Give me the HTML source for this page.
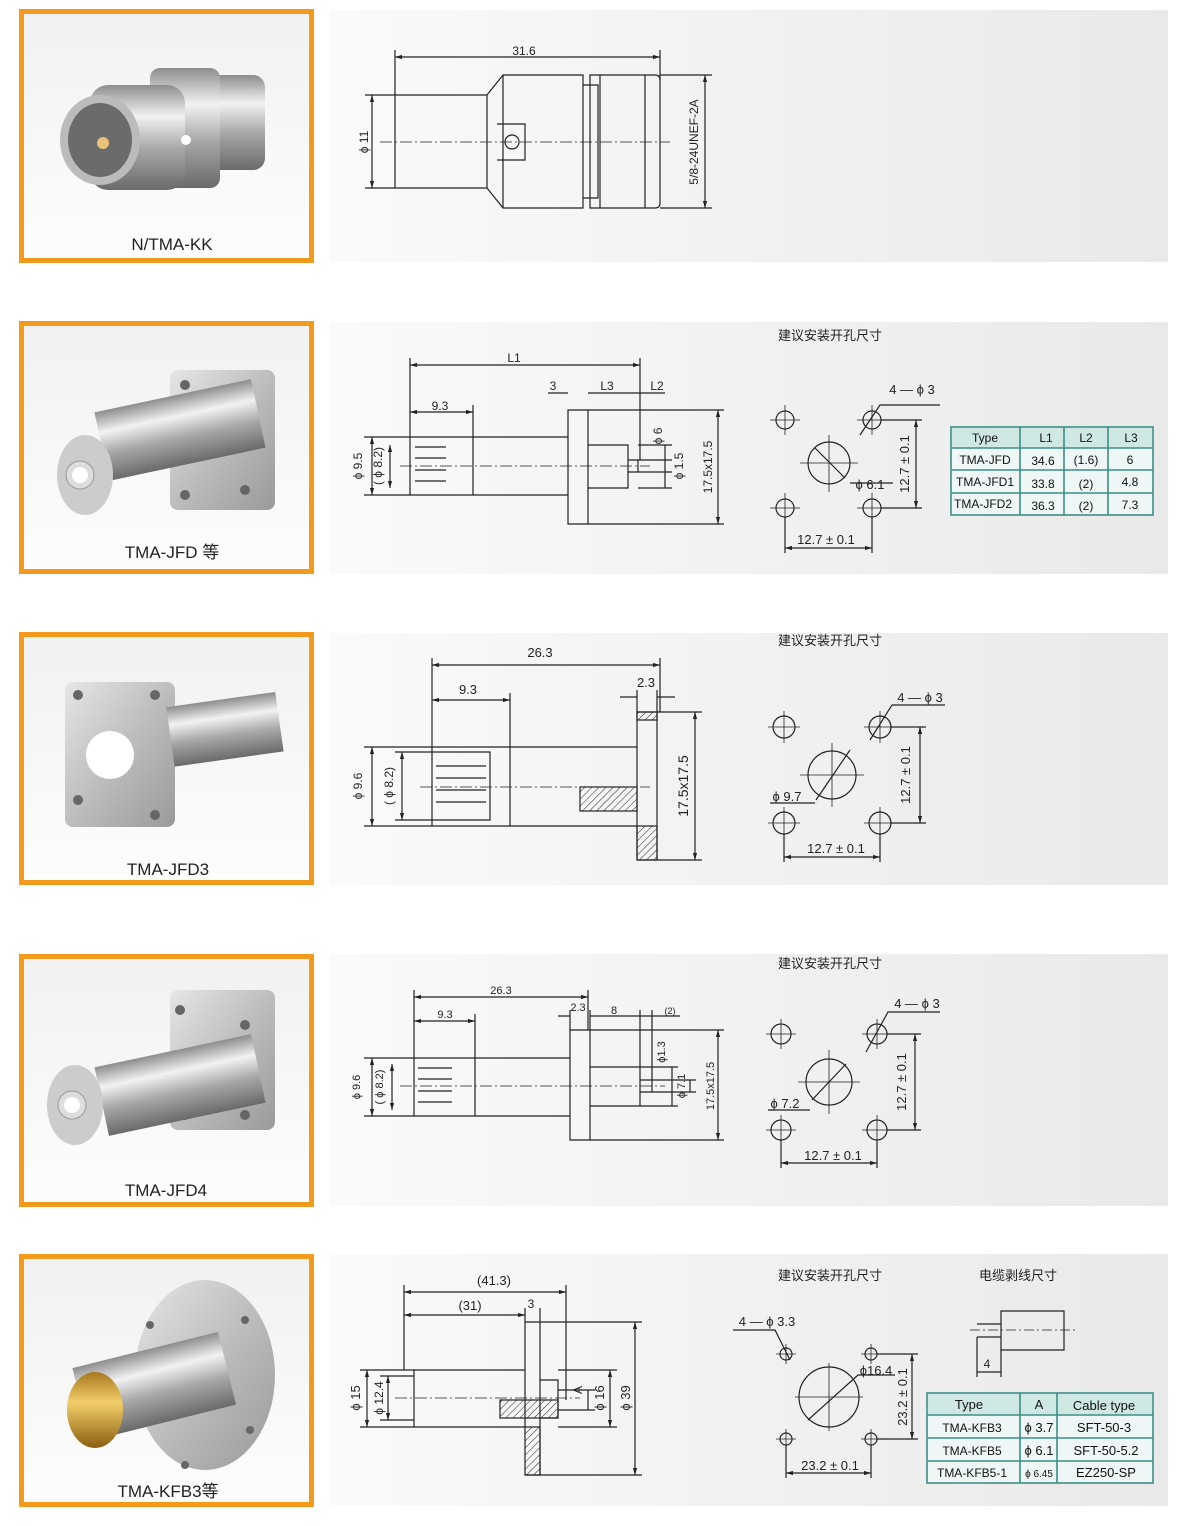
<!DOCTYPE html>
<html><head><meta charset="utf-8"><style>
body{margin:0;background:#fff;}
svg{display:block;font-family:"Liberation Sans","Noto Sans CJK SC",sans-serif;}
</style></head><body>
<svg width="1200" height="1526" viewBox="0 0 1200 1526" xmlns="http://www.w3.org/2000/svg">
<defs>
<linearGradient id="pg" x1="0" y1="0" x2="1" y2="0"><stop offset="0" stop-color="#fafafa"/><stop offset="1" stop-color="#e9e9e9"/></linearGradient>
<linearGradient id="ph" x1="0" y1="0" x2="0" y2="1"><stop offset="0" stop-color="#f1f1f1"/><stop offset="1" stop-color="#fdfdfd"/></linearGradient>
<linearGradient id="met" x1="0" y1="0" x2="0" y2="1"><stop offset="0" stop-color="#8d8d8d"/><stop offset=".3" stop-color="#f2f2f2"/><stop offset=".6" stop-color="#a9a9a9"/><stop offset="1" stop-color="#6a6a6a"/></linearGradient>
<linearGradient id="fl" x1="0" y1="0" x2="1" y2="1"><stop offset="0" stop-color="#e6e6e6"/><stop offset=".5" stop-color="#bdbdbd"/><stop offset="1" stop-color="#9a9a9a"/></linearGradient>
<linearGradient id="gold" x1="0" y1="0" x2="0" y2="1"><stop offset="0" stop-color="#a8771e"/><stop offset=".4" stop-color="#f3cf6a"/><stop offset="1" stop-color="#8a5e10"/></linearGradient>
<pattern id="hat" width="5" height="5" patternUnits="userSpaceOnUse" patternTransform="rotate(45)"><line x1="0" y1="0" x2="0" y2="5" stroke="#222" stroke-width="1"/></pattern>
<marker id="a" viewBox="0 0 10 10" refX="10" refY="5" markerWidth="6" markerHeight="6" orient="auto-start-reverse"><path d="M0,2 L10,5 L0,8z" fill="#222"/></marker>
</defs>
<g fill="url(#pg)">
<rect x="330" y="10" width="838" height="252"/><rect x="330" y="322" width="838" height="252"/>
<rect x="330" y="633" width="838" height="252"/><rect x="330" y="954" width="838" height="252"/>
<rect x="330" y="1254" width="838" height="252"/>
</g>
<g fill="url(#ph)" stroke="#f39a1c" stroke-width="5">
<rect x="21.5" y="11.5" width="290" height="249"/><rect x="21.5" y="323.5" width="290" height="248"/>
<rect x="21.5" y="634.5" width="290" height="248"/><rect x="21.5" y="956.5" width="290" height="248"/>
<rect x="21.5" y="1256.5" width="290" height="248"/>
</g>
<!-- photos -->
<g>
<rect x="195" y="75" width="70" height="95" rx="12" fill="url(#met)"/>
<rect x="150" y="68" width="70" height="120" rx="10" fill="url(#met)"/>
<rect x="90" y="85" width="95" height="105" rx="18" fill="url(#met)"/>
<circle cx="186" cy="140" r="5" fill="#fff"/>
<ellipse cx="100" cy="140" rx="40" ry="45" fill="#bbb"/><ellipse cx="100" cy="140" rx="32" ry="37" fill="#6b6b6b"/><circle cx="103" cy="143" r="6" fill="#e8c27a"/>
<rect x="170" y="370" width="105" height="140" rx="8" fill="url(#fl)"/>
<circle cx="185" cy="385" r="5" fill="#666"/><circle cx="245" cy="405" r="5" fill="#666"/><circle cx="245" cy="490" r="5" fill="#666"/><circle cx="185" cy="495" r="5" fill="#666"/>
<rect x="100" y="395" width="160" height="70" fill="url(#met)" transform="rotate(-12 180 430)"/>
<ellipse cx="85" cy="475" rx="28" ry="40" fill="#ccc"/><circle cx="80" cy="475" r="14" fill="#ddd" stroke="#999"/><circle cx="80" cy="475" r="8" fill="#fff"/>
<rect x="65" y="682" width="110" height="145" rx="8" fill="url(#fl)"/><circle cx="110" cy="755" r="24" fill="#fff"/>
<circle cx="78" cy="695" r="5" fill="#666"/><circle cx="155" cy="695" r="5" fill="#666"/><circle cx="78" cy="800" r="5" fill="#666"/><circle cx="155" cy="815" r="5" fill="#666"/>
<rect x="170" y="700" width="110" height="60" fill="url(#met)" transform="rotate(-8 220 730)"/>
<rect x="170" y="990" width="105" height="140" rx="8" fill="url(#fl)"/>
<circle cx="180" cy="1010" r="5" fill="#666"/><circle cx="245" cy="1025" r="5" fill="#666"/><circle cx="245" cy="1115" r="5" fill="#666"/><circle cx="185" cy="1115" r="5" fill="#666"/>
<rect x="100" y="1050" width="160" height="70" fill="url(#met)" transform="rotate(-12 180 1085)"/>
<ellipse cx="75" cy="1105" rx="28" ry="40" fill="#ccc"/><circle cx="72" cy="1105" r="14" fill="#ddd" stroke="#999"/><circle cx="72" cy="1105" r="8" fill="#fff"/>
<ellipse cx="205" cy="1375" rx="70" ry="95" fill="url(#fl)"/>
<circle cx="150" cy="1325" r="4" fill="#666"/><circle cx="245" cy="1320" r="4" fill="#666"/><circle cx="250" cy="1430" r="4" fill="#666"/><circle cx="185" cy="1465" r="4" fill="#666"/>
<rect x="80" y="1350" width="150" height="75" fill="url(#met)" transform="rotate(-14 150 1390)"/>
<ellipse cx="95" cy="1410" rx="28" ry="38" fill="url(#gold)"/>
</g>
<g font-size="17" fill="#222" text-anchor="middle">
<text x="172" y="250">N/TMA-KK</text><text x="172" y="558">TMA-JFD 等</text>
<text x="168" y="875">TMA-JFD3</text><text x="166" y="1196">TMA-JFD4</text>
<text x="168" y="1497">TMA-KFB3等</text>
</g>
<g fill="none" stroke="#222" stroke-width="1.2">
<!-- row1 -->
<path d="M395,95 H487 V188 H395Z M487,95 L503,75 H583 V208 H503 L487,188 M503,75 V208 M583,85 H598 V198 H583 M590,75 H655 Q660,75 660,80 V203 Q660,208 655,208 H590Z M600,75 V208 M645,75 V208"/>
<circle cx="512" cy="142" r="7"/><path d="M497,124 H525 V160 H497"/>
<path d="M395,57 H660" marker-start="url(#a)" marker-end="url(#a)"/><path d="M395,50 V95 M660,50 V80"/>
<path d="M372,95 V188" marker-start="url(#a)" marker-end="url(#a)"/><path d="M365,95 H395 M365,188 H395"/>
<path d="M705,75 V208" marker-start="url(#a)" marker-end="url(#a)"/><path d="M660,75 H712 M660,208 H712"/>
<path d="M380,142 H670" stroke-dasharray="12,3,2,3" stroke-width=".8"/>
<!-- row2 -->
<path d="M410,437 H473 V495 H410Z M473,437 H568 V495 H473 M568,410 H588 V524 H568Z M588,445 H628 V488 H588 M628,460 H638 V472 H628"/>
<path d="M415,447 H446 M415,458 H446 M415,470 H446 M415,481 H446"/>
<path d="M410,365 H640" marker-start="url(#a)" marker-end="url(#a)"/><path d="M410,358 V437 M640,358 V460"/>
<path d="M410,412 H473" marker-start="url(#a)" marker-end="url(#a)"/><path d="M473,405 V437"/>
<path d="M548,393 H568 M588,393 H628 M628,393 H640 M640,393 H665"/>
<path d="M718,410 V524" marker-start="url(#a)" marker-end="url(#a)"/><path d="M588,410 H724 M588,524 H724"/>
<path d="M372,437 V495" marker-start="url(#a)" marker-end="url(#a)"/><path d="M390,445 V488" marker-start="url(#a)" marker-end="url(#a)"/>
<path d="M364,437 H410 M364,495 H410"/>
<path d="M665,445 V488 M665,460 V472 M638,445 H672 M638,460 H672 M638,472 H672 M638,488 H672"/>
<path d="M400,466 H650" stroke-dasharray="12,3,2,3" stroke-width=".8"/>
<circle cx="785" cy="420" r="9"/><circle cx="872" cy="420" r="9"/><circle cx="785" cy="508" r="9"/><circle cx="872" cy="508" r="9"/><circle cx="829" cy="463" r="21"/>
<path d="M770,420 H800 M785,405 V435 M857,420 H887 M872,405 V435 M770,508 H800 M785,493 V523 M857,508 H887 M872,493 V523 M800,463 H858 M829,435 V492" stroke-width=".8"/>
<path d="M785,548 H872" marker-start="url(#a)" marker-end="url(#a)"/><path d="M785,517 V553 M872,517 V553"/>
<path d="M916,420 V508" marker-start="url(#a)" marker-end="url(#a)"/><path d="M881,420 H922 M881,508 H922"/>
<path d="M815,448 L845,478 M860,435 L880,405 H940 M850,483 H893"/>
<!-- row3 -->
<path d="M432,747 H510 V826 H432Z M510,747 H637 V826 H510 M637,712 H657 V860 H637 M637,712 V747 M637,826 V860 M432,752 H490 V820 H432"/>
<path d="M436,766 H486 M436,778 H486 M436,790 H486 M436,802 H486"/>
<rect x="580" y="787" width="57" height="24" fill="url(#hat)"/><rect x="637" y="826" width="20" height="34" fill="url(#hat)"/><rect x="637" y="712" width="20" height="8" fill="url(#hat)"/>
<path d="M432,665 H660" marker-start="url(#a)" marker-end="url(#a)"/><path d="M432,658 V747 M660,658 V712"/>
<path d="M432,700 H510" marker-start="url(#a)" marker-end="url(#a)"/><path d="M510,693 V747"/>
<path d="M620,697 H637 M657,697 H675"/><path d="M637,690 V712 M657,690 V712"/>
<path d="M695,712 V860" marker-start="url(#a)" marker-end="url(#a)"/><path d="M657,712 H702 M657,860 H702"/>
<path d="M372,747 V826" marker-start="url(#a)" marker-end="url(#a)"/><path d="M402,752 V820" marker-start="url(#a)" marker-end="url(#a)"/>
<path d="M364,747 H432 M364,826 H432 M395,752 H432 M395,820 H432"/>
<path d="M420,787 H650" stroke-dasharray="12,3,2,3" stroke-width=".8"/>
<circle cx="784" cy="727" r="11"/><circle cx="880" cy="727" r="11"/><circle cx="784" cy="823" r="11"/><circle cx="880" cy="823" r="11"/><circle cx="832" cy="775" r="24"/>
<path d="M768,727 H800 M784,711 V743 M864,727 H896 M880,711 V743 M768,823 H800 M784,807 V839 M864,823 H896 M880,807 V839 M800,775 H864 M832,743 V807" stroke-width=".8"/>
<path d="M784,857 H880" marker-start="url(#a)" marker-end="url(#a)"/><path d="M784,834 V862 M880,834 V862"/>
<path d="M920,727 V823" marker-start="url(#a)" marker-end="url(#a)"/><path d="M891,727 H926 M891,823 H926"/>
<path d="M816,800 L850,750 M870,740 L892,705 H945 M770,803 H815"/>
<!-- row4 -->
<path d="M414,1058 H475 V1116 H414Z M475,1058 H570 V1116 H475 M570,1030 H590 V1140 H570Z M590,1067 H640 V1106 H590 M640,1080 H652 V1092 H640"/>
<path d="M418,1068 H452 M418,1079 H452 M418,1091 H452 M418,1102 H452"/>
<path d="M414,997 H588" marker-start="url(#a)" marker-end="url(#a)"/><path d="M414,990 V1058 M588,990 V1030"/>
<path d="M414,1021 H475" marker-start="url(#a)" marker-end="url(#a)"/><path d="M475,1014 V1058"/>
<path d="M558,1016 H570 M590,1016 H640 M640,1016 H652 M652,1016 H680 M570,1010 V1030 M590,1010 V1030 M640,1010 V1067 M652,1010 V1080"/>
<path d="M718,1030 V1140" marker-start="url(#a)" marker-end="url(#a)"/><path d="M590,1030 H724 M590,1140 H724"/>
<path d="M372,1058 V1116" marker-start="url(#a)" marker-end="url(#a)"/><path d="M392,1064 V1110" marker-start="url(#a)" marker-end="url(#a)"/>
<path d="M364,1058 H414 M364,1116 H414"/>
<path d="M672,1067 V1106 M690,1080 V1092 M640,1067 H678 M652,1080 H696 M652,1092 H696 M640,1106 H678"/>
<path d="M400,1086 H665" stroke-dasharray="12,3,2,3" stroke-width=".8"/>
<circle cx="781" cy="1034" r="10"/><circle cx="877" cy="1034" r="10"/><circle cx="781" cy="1130" r="10"/><circle cx="877" cy="1130" r="10"/><circle cx="829" cy="1082" r="23"/>
<path d="M766,1034 H796 M781,1019 V1049 M862,1034 H892 M877,1019 V1049 M766,1130 H796 M781,1115 V1145 M862,1130 H892 M877,1115 V1145 M798,1082 H860 M829,1050 V1114" stroke-width=".8"/>
<path d="M781,1163 H877" marker-start="url(#a)" marker-end="url(#a)"/><path d="M781,1140 V1168 M877,1140 V1168"/>
<path d="M915,1034 V1130" marker-start="url(#a)" marker-end="url(#a)"/><path d="M887,1034 H921 M887,1130 H921"/>
<path d="M812,1100 L846,1064 M866,1052 L888,1012 H940 M768,1110 H810"/>
<!-- row5 -->
<path d="M414,1370 H525 V1427 H414Z M525,1322 H540 V1475 H525 M525,1322 V1370 M540,1380 H558 V1418 H540"/>
<rect x="500" y="1400" width="58" height="18" fill="url(#hat)"/><rect x="525" y="1427" width="15" height="48" fill="url(#hat)"/>
<path d="M404,1292 H566" marker-start="url(#a)" marker-end="url(#a)"/><path d="M404,1285 V1370 M566,1285 V1400"/>
<path d="M404,1315 H525" marker-start="url(#a)" marker-end="url(#a)"/><path d="M525,1308 V1322 M540,1308 V1322"/>
<path d="M635,1322 V1475" marker-start="url(#a)" marker-end="url(#a)"/><path d="M540,1322 H642 M540,1475 H642"/>
<path d="M610,1370 V1427" marker-start="url(#a)" marker-end="url(#a)"/><path d="M558,1370 H617 M558,1427 H617"/>
<path d="M588,1390 V1410 M558,1390 H595 M558,1410 H595"/>
<path d="M367,1370 V1427" marker-start="url(#a)" marker-end="url(#a)"/><path d="M388,1376 V1420" marker-start="url(#a)" marker-end="url(#a)"/>
<path d="M360,1370 H414 M360,1427 H414 M380,1376 H414 M380,1420 H414"/>
<path d="M395,1398 H580" stroke-dasharray="12,3,2,3" stroke-width=".8"/>
<circle cx="786" cy="1354" r="6"/><circle cx="871" cy="1354" r="6"/><circle cx="786" cy="1439" r="6"/><circle cx="871" cy="1439" r="6"/><circle cx="829" cy="1397" r="30"/>
<path d="M776,1354 H796 M786,1344 V1364 M861,1354 H881 M871,1344 V1364 M776,1439 H796 M786,1429 V1449 M861,1439 H881 M871,1429 V1449 M795,1397 H863 M829,1363 V1431" stroke-width=".8"/>
<path d="M786,1473 H871" marker-start="url(#a)" marker-end="url(#a)"/><path d="M786,1445 V1478 M871,1445 V1478"/>
<path d="M912,1354 V1439" marker-start="url(#a)" marker-end="url(#a)"/><path d="M877,1354 H918 M877,1439 H918"/>
<path d="M733,1330 H775 L790,1360 M808,1420 L858,1375 H895"/>
<path d="M1001,1311 H1064 V1350 H1001Z M977,1324 H1001 V1337 H977"/>
<path d="M970,1330 H1075" stroke-dasharray="10,3,2,3" stroke-width=".8"/>
<path d="M977,1337 V1377 M1001,1350 V1377 M977,1372 H1001"/>
</g>
<g font-size="12" fill="#222" text-anchor="middle">
<text x="524" y="55">31.6</text>
<text transform="translate(368,142) rotate(-90)">ϕ 11</text>
<text transform="translate(698,142) rotate(-90)">5/8-24UNEF-2A</text>
<text x="830" y="340" font-size="13">建议安装开孔尺寸</text>
<text x="514" y="362">L1</text><text x="440" y="410">9.3</text><text x="553" y="390">3</text><text x="607" y="390">L3</text><text x="657" y="390">L2</text>
<text transform="translate(362,466) rotate(-90)">ϕ 9.5</text><text transform="translate(382,466) rotate(-90)">( ϕ 8.2)</text>
<text transform="translate(662,436) rotate(-90)">ϕ 6</text><text transform="translate(683,466) rotate(-90)">ϕ 1.5</text>
<text transform="translate(712,467) rotate(-90)">17.5x17.5</text>
<text x="912" y="394" font-size="13">4 — ϕ 3</text><text x="870" y="489" font-size="13">ϕ 6.1</text>
<text x="826" y="544" font-size="13">12.7 ± 0.1</text><text transform="translate(909,464) rotate(-90)" font-size="13">12.7 ± 0.1</text>
<text x="830" y="645" font-size="13">建议安装开孔尺寸</text>
<text x="540" y="657" font-size="13">26.3</text><text x="468" y="694" font-size="13">9.3</text><text x="646" y="687" font-size="13">2.3</text>
<text transform="translate(362,786) rotate(-90)">ϕ 9.6</text><text transform="translate(393,786) rotate(-90)">( ϕ 8.2)</text>
<text transform="translate(688,786) rotate(-90)" font-size="14">17.5x17.5</text>
<text x="920" y="702" font-size="13">4 — ϕ 3</text><text x="787" y="801" font-size="13">ϕ 9.7</text>
<text x="836" y="853" font-size="13">12.7 ± 0.1</text><text transform="translate(910,775) rotate(-90)" font-size="13">12.7 ± 0.1</text>
<text x="830" y="968" font-size="13">建议安装开孔尺寸</text>
<text x="501" y="994" font-size="11">26.3</text><text x="445" y="1018" font-size="11">9.3</text><text x="578" y="1011" font-size="11">2.3</text><text x="614" y="1014" font-size="11">8</text><text x="670" y="1014" font-size="9">(2)</text>
<text transform="translate(360,1087) rotate(-90)" font-size="11">ϕ 9.6</text><text transform="translate(383,1087) rotate(-90)" font-size="11">( ϕ 8.2)</text>
<text transform="translate(665,1052) rotate(-90)" font-size="11">ϕ1.3</text><text transform="translate(685,1086) rotate(-90)" font-size="11">ϕ 7.1</text>
<text transform="translate(714,1086) rotate(-90)" font-size="11">17.5x17.5</text>
<text x="917" y="1008" font-size="13">4 — ϕ 3</text><text x="785" y="1108" font-size="13">ϕ 7.2</text>
<text x="833" y="1160" font-size="13">12.7 ± 0.1</text><text transform="translate(906,1082) rotate(-90)" font-size="13">12.7 ± 0.1</text>
<text x="830" y="1280" font-size="13">建议安装开孔尺寸</text><text x="1018" y="1280" font-size="13">电缆剥线尺寸</text>
<text x="494" y="1285" font-size="13">(41.3)</text><text x="470" y="1310" font-size="13">(31)</text><text x="531" y="1308" font-size="12">3</text>
<text transform="translate(360,1398) rotate(-90)" font-size="13">ϕ 15</text><text transform="translate(383,1398) rotate(-90)">ϕ 12.4</text>
<text transform="translate(582,1390) rotate(-90)">A</text><text transform="translate(604,1398) rotate(-90)" font-size="13">ϕ 16</text>
<text transform="translate(630,1398) rotate(-90)" font-size="13">ϕ 39</text>
<text x="767" y="1326" font-size="13">4 — ϕ 3.3</text><text x="876" y="1375" font-size="13">ϕ16.4</text>
<text x="830" y="1470" font-size="13">23.2 ± 0.1</text><text transform="translate(907,1397) rotate(-90)" font-size="13">23.2 ± 0.1</text>
<text x="987" y="1368" font-size="12">4</text>
</g>
<rect x="951" y="427" width="202" height="88" fill="#eef7f6" stroke="#3a8f85" stroke-width="1.6"/>
<rect x="952" y="428" width="200" height="20" fill="#cfe8e4"/>
<path d="M951,448 H1153 M951,470 H1153 M951,493 H1153 M1020,427 V515 M1064,427 V515 M1108,427 V515" stroke="#3a8f85" stroke-width="1.6"/>
<g font-size="12" fill="#111" text-anchor="middle">
<text x="985" y="442">Type</text><text x="1046" y="442">L1</text><text x="1086" y="442">L2</text><text x="1131" y="442">L3</text>
<text x="985" y="464">TMA-JFD</text><text x="1043" y="465">34.6</text><text x="1086" y="464">(1.6)</text><text x="1130" y="464">6</text>
<text x="985" y="486">TMA-JFD1</text><text x="1043" y="488">33.8</text><text x="1086" y="488">(2)</text><text x="1130" y="486">4.8</text>
<text x="983" y="508">TMA-JFD2</text><text x="1043" y="510">36.3</text><text x="1086" y="510">(2)</text><text x="1130" y="509">7.3</text>
</g>
<rect x="927" y="1393" width="226" height="90" fill="#eef7f6" stroke="#3a8f85" stroke-width="1.6"/>
<rect x="928" y="1394" width="224" height="21" fill="#cfe8e4"/>
<path d="M927,1415 H1153 M927,1438 H1153 M927,1461 H1153 M1020,1393 V1483 M1057,1393 V1483" stroke="#3a8f85" stroke-width="1.6"/>
<g font-size="13" fill="#111" text-anchor="middle">
<text x="969" y="1409">Type</text><text x="1039" y="1409">A</text><text x="1104" y="1410">Cable type</text>
<text x="972" y="1432" font-size="12">TMA-KFB3</text><text x="1039" y="1432">ϕ 3.7</text><text x="1104" y="1432">SFT-50-3</text>
<text x="972" y="1455" font-size="12">TMA-KFB5</text><text x="1039" y="1455">ϕ 6.1</text><text x="1106" y="1455">SFT-50-5.2</text>
<text x="972" y="1477" font-size="12">TMA-KFB5-1</text><text x="1039" y="1477" font-size="10">ϕ 6.45</text><text x="1106" y="1477">EZ250-SP</text>
</g>
</svg>
</body></html>
